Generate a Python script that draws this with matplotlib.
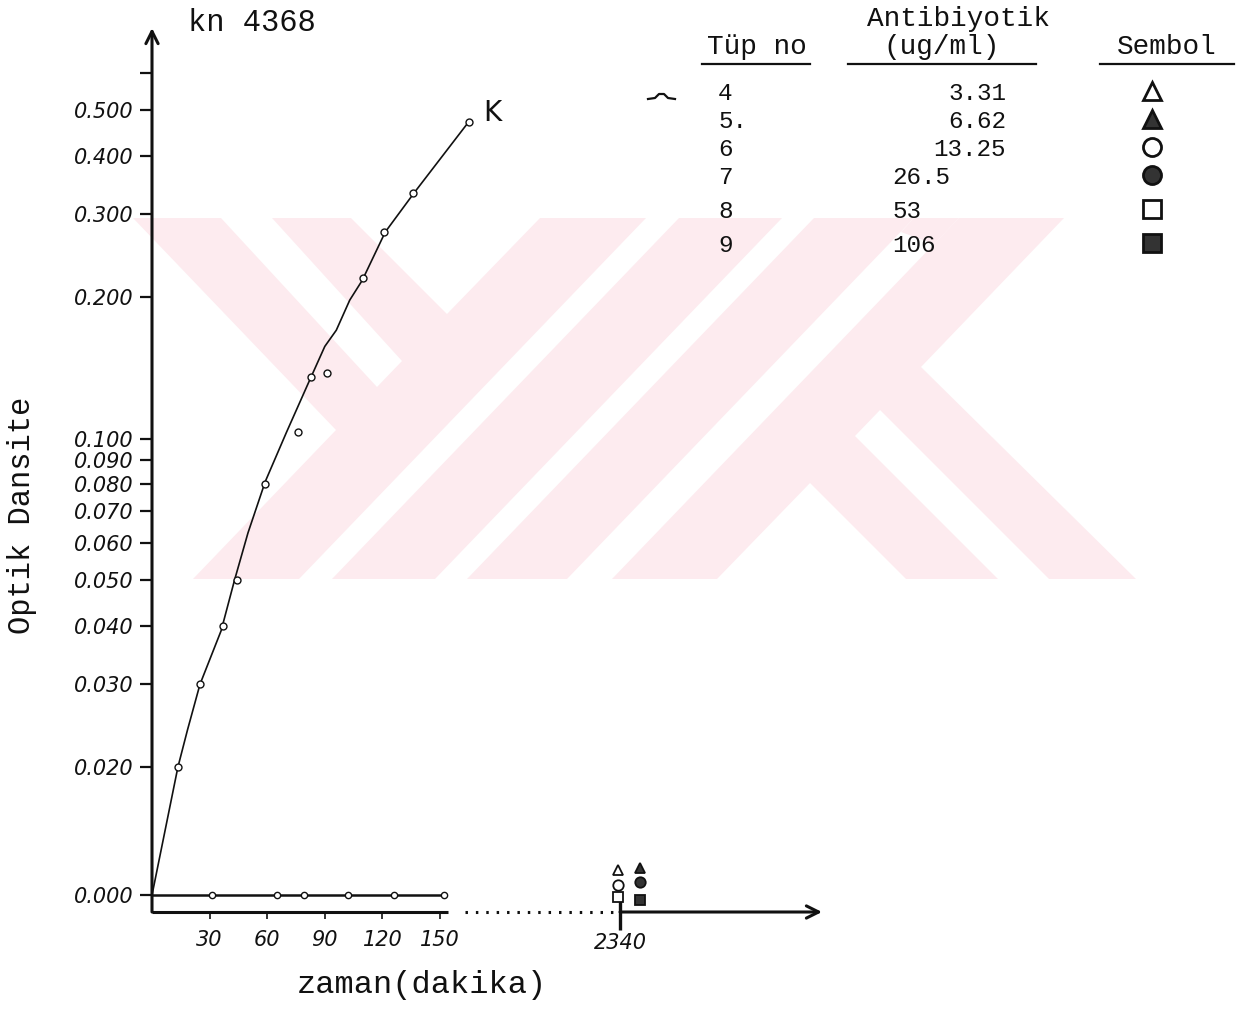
import numpy as np
import matplotlib
matplotlib.use('Agg')
import matplotlib.pyplot as plt
from matplotlib.patches import Polygon
import matplotlib.transforms as mtransforms

# K (kontrol) tube: measured points and the hand drawn curve through them
k_time = [13.5, 25, 37, 44.5, 59, 76, 83, 91, 110, 121, 136, 165]
k_od = [0.020, 0.030, 0.040, 0.050, 0.080, 0.103, 0.135, 0.138, 0.220, 0.275, 0.333, 0.472]
k_curve_time = [0, 13.5, 18.5, 25, 36, 43, 50, 59, 70, 81, 90, 96, 103, 109.5, 121.5, 136.5, 165]
k_curve_od = [0, 0.020, 0.024, 0.030, 0.039, 0.050, 0.063, 0.081, 0.103, 0.130, 0.157,
              0.170, 0.197, 0.217, 0.275, 0.333, 0.472]

# tubes 4-9: no growth
zero_time = [0, 31, 65, 79, 102, 126, 152]
zero_od = [0, 0, 0, 0, 0, 0, 0]

tube_no = ['4', '5.', '6', '7', '8', '9']
antibiyotik = ['3.31', '6.62', '13.25', '26.5', '53', '106']
final_time = 2340
final_od = [0, 0, 0, 0, 0, 0]
tube_marker = ['^', '^', 'o', 'o', 's', 's']
tube_filled = [False, True, False, True, False, True]

y_ticks = [0.5, 0.4, 0.3, 0.2, 0.1, 0.09, 0.08, 0.07, 0.06, 0.05, 0.04, 0.03, 0.02, 0.0]
y_labels = ['0.500', '0.400', '0.300', '0.200', '0.100', '0.090', '0.080', '0.070',
            '0.060', '0.050', '0.040', '0.030', '0.020', '0.000']
x_ticks = [30, 60, 90, 120, 150]
x_labels = ['30', '60', '90', '120', '150']

TYPE = 'Liberation Mono'
HAND = 'DejaVu Sans'
INK = '#111111'
PINK = '#fdebef'

# log axis above 0.02, a short linear piece down to 0.000
Y0 = 0.02
GAP = 0.2723


def y_fwd(y):
    y = np.asarray(y, dtype=float)
    lg = np.log10(np.maximum(y, Y0))
    return np.where(y >= Y0, lg, np.log10(Y0) - GAP * (Y0 - y) / Y0)


def y_inv(f):
    f = np.asarray(f, dtype=float)
    return np.where(f >= np.log10(Y0), 10 ** np.minimum(f, 5), Y0 - (np.log10(Y0) - f) / GAP * Y0)


# time axis broken after 180 min so that 2340 fits
XB = 180
XK = 0.029514


def x_fwd(t):
    t = np.asarray(t, dtype=float)
    return np.where(t <= XB, t, XB + (t - XB) * XK)


def x_inv(u):
    u = np.asarray(u, dtype=float)
    return np.where(u <= XB, u, XB + (u - XB) / XK)


W, H = 1247, 1009
fig = plt.figure(figsize=(W / 100, H / 100), dpi=100)
fig.patch.set_facecolor('white')

# watermark in the background (pixel coords)
bg = fig.add_axes([0, 0, 1, 1], zorder=0)
bg.set_xlim(0, W)
bg.set_ylim(H, 0)
bg.axis('off')
pink_shapes = [
    [(133, 218), (646, 218), (299, 579), (193, 579), (336, 430)],
    [(679, 218), (782, 218), (435, 579), (332, 579)],
    [(814, 218), (914, 218), (567, 579), (467, 579)],
    [(914, 218), (959, 218), (934, 244), (901, 232)],
    [(959, 218), (1064, 218), (921, 367), (1136, 579), (612, 579)],
]
white_shapes = [
    [(447, 314), (540, 218), (351, 218)],
    [(377, 387), (402, 361), (272, 218), (221, 218)],
    [(810, 483), (717, 579), (906, 579)],
    [(880, 410), (855, 436), (998, 579), (1049, 579)],
]
for pts in pink_shapes:
    bg.add_patch(Polygon(pts, closed=True, facecolor=PINK, edgecolor='none'))
for pts in white_shapes:
    bg.add_patch(Polygon(pts, closed=True, facecolor='white', edgecolor='none'))

# main chart
ax = fig.add_axes([152 / W, (H - 912) / H, (822 - 152) / W, (912 - 28) / H], zorder=1)
ax.patch.set_alpha(0)
ax.set_xscale('function', functions=(x_fwd, x_inv))
ax.set_yscale('function', functions=(y_fwd, y_inv))
ax.set_xlim(0, 5905)
ax.set_ylim(-0.00265, 0.747)
for s in ax.spines.values():
    s.set_visible(False)

ax.plot(k_curve_time, k_curve_od, color=INK, lw=1.2, clip_on=False, solid_joinstyle='round')
ax.plot(k_time, k_od, ls='none', marker='o', ms=5, mfc='white', mec=INK, mew=1.0)
ax.plot(zero_time, zero_od, color=INK, lw=1.8, marker='o', ms=4.5, mfc='white',
        mec=INK, mew=1.0, markevery=list(range(1, len(zero_time))))

# stacked symbols at 2340 min (all 0.000)
dpi = fig.dpi
stack = [(-2, 25), (20, 27), (-2, 10), (20, 13), (-2, -2), (20, -5)]
for i in range(len(tube_no)):
    dx, dy = stack[i]
    tr = ax.transData + mtransforms.ScaledTranslation(dx / dpi, dy / dpi, fig.dpi_scale_trans)
    ax.plot([final_time], [final_od[i]], ls='none', marker=tube_marker[i], ms=7.5,
            mfc='#333333' if tube_filled[i] else 'white', mec=INK, mew=1.3,
            transform=tr, clip_on=False, zorder=4)

# axes drawn by hand: y arrow, x axis with break
arrow = dict(arrowstyle='->', lw=2.2, color=INK, shrinkA=0, shrinkB=0, mutation_scale=22)
ax.annotate('', xy=(0, 1), xytext=(0, 0), xycoords='axes fraction',
            textcoords='axes fraction', arrowprops=arrow)
xt = ax.get_xaxis_transform()
ax.plot([0, 154], [0, 0], color=INK, lw=2.2, transform=xt, clip_on=False, solid_capstyle='butt')
ax.plot([163, 2250], [0, 0], color=INK, lw=2.2, ls=(0, (0.8, 2.6)), transform=xt, clip_on=False)
ax.annotate('', xy=(1, 0), xycoords='axes fraction', xytext=(final_time, 0),
            textcoords=xt, arrowprops=arrow)

ax.set_yticks(y_ticks, labels=y_labels)
ax.set_yticks([0.6], minor=True)
ax.set_xticks(x_ticks, labels=x_labels)
ax.set_xticks([final_time], labels=['2340'], minor=True)
ax.tick_params(axis='y', which='both', direction='out', length=9, width=1.6, pad=4,
               labelsize=15, colors=INK)
ax.tick_params(axis='x', which='major', direction='out', length=5, width=1.2, pad=8,
               labelsize=15, colors=INK)
ax.tick_params(axis='x', which='minor', direction='inout', length=26, width=2.4, pad=2,
               labelsize=15, colors=INK)
for lbl in ax.get_yticklabels() + ax.get_xticklabels() + ax.get_xticklabels(minor=True):
    lbl.set_fontstyle('italic')
    lbl.set_family(HAND)

# overlay texts (pixel coords)
ov = fig.add_axes([0, 0, 1, 1], zorder=2)
ov.set_xlim(0, W)
ov.set_ylim(H, 0)
ov.axis('off')

ov.text(188, 23, 'kn 4368', family=TYPE, fontsize=22, va='center', ha='left', color=INK)
ov.text(483, 113, 'K', family=HAND, fontsize=20, va='center', ha='left', color=INK)
ov.text(22, 515, 'Optik Dansite', family=TYPE, fontsize=22, rotation=90,
        va='center', ha='center', color=INK)
ov.text(422, 985, 'zaman(dakika)', family=TYPE, fontsize=23, va='center', ha='center', color=INK)

# table of tubes
ov.text(958, 19, 'Antibiyotik', family=TYPE, fontsize=20, va='center', ha='center', color=INK)
ov.text(757, 47, 'Tüp no', family=TYPE, fontsize=20, va='center', ha='center', color=INK)
ov.text(942, 47, '(ug/ml)', family=TYPE, fontsize=20, va='center', ha='center', color=INK)
ov.text(1167, 47, 'Sembol', family=TYPE, fontsize=20, va='center', ha='center', color=INK)
for x0, x1 in [(702, 810), (848, 1036), (1100, 1234)]:
    ov.plot([x0, x1], [64, 64], color=INK, lw=1.6)
ov.plot([648, 655, 659, 664, 668, 675], [99, 98, 94, 94, 98, 99], color=INK, lw=1.6)

row_y = [94, 122, 150, 178, 212, 246]
for i in range(len(tube_no)):
    ov.text(718, row_y[i], tube_no[i], family=TYPE, fontsize=17.5, va='center', ha='left', color=INK)
    if i < 3:
        ov.text(1006, row_y[i], antibiyotik[i], family=TYPE, fontsize=17.5, va='center',
                ha='right', color=INK)
    else:
        ov.text(892, row_y[i], antibiyotik[i], family=TYPE, fontsize=17.5, va='center',
                ha='left', color=INK)
    ov.plot([1152], [row_y[i] - 3], ls='none', marker=tube_marker[i], ms=13,
            mfc='#333333' if tube_filled[i] else 'white', mec=INK, mew=2)

fig.savefig('out.png', dpi=100, facecolor='white')
